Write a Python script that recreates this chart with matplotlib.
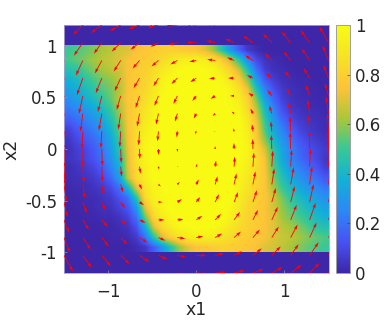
import numpy as np
import matplotlib
matplotlib.use("Agg")
import matplotlib.pyplot as plt
from matplotlib.colors import LinearSegmentedColormap

x1_cells = [-1.5,-1.4,-1.3,-1.2,-1.1,-1.0,-0.9,-0.8,-0.7,-0.6,-0.5,-0.4,-0.3,-0.2,-0.1,0.0,
            0.1,0.2,0.3,0.4,0.5,0.6,0.7,0.8,0.9,1.0,1.1,1.2,1.3,1.4,1.5]
x2_cells = [1.0,0.9,0.8,0.7,0.6,0.5,0.4,0.3,0.2,0.1,0.0,-0.1,-0.2,-0.3,-0.4,-0.5,-0.6,-0.7,-0.8,-0.9,-1.0]
band_value = 0.0

r_p10 = [.50,.52,.55,.58,.62,.65,.68,.70,.74,.76,.78,.79,.80,.78,.76,.75,.70,.60,.45,.28,.15,.05,.02,0,0,0,0,0,0,0,0]
r_p09 = [.52,.55,.58,.62,.65,.67,.70,.74,.77,.78,.80,.84,.88,.92,.94,.95,.92,.87,.78,.64,.46,.25,.10,.04,.02,.01,0,0,0,0,0]
r_p08 = [.45,.47,.53,.58,.62,.65,.68,.75,.78,.80,.84,.90,.95,.99,1,1,.99,.97,.90,.80,.66,.43,.20,.07,.03,.02,.01,0,0,0,0]
r_p07 = [.38,.42,.47,.52,.57,.60,.65,.75,.78,.81,.87,.95,1,1,1,1,1,1,.97,.90,.78,.58,.32,.14,.07,.03,.02,.01,.01,0,0]
r_p06 = [.33,.37,.42,.47,.53,.57,.63,.75,.79,.82,.90,.97,1,1,1,1,1,1,1,.96,.87,.72,.45,.24,.12,.06,.03,.02,.01,.01,0]
r_p05 = [.28,.32,.37,.42,.48,.55,.66,.76,.80,.85,.92,1,1,1,1,1,1,1,1,.98,.93,.80,.58,.33,.18,.08,.04,.02,.02,.01,.01]
r_p04 = [.22,.26,.30,.35,.42,.50,.62,.76,.81,.88,.95,1,1,1,1,1,1,1,1,.99,.96,.84,.66,.42,.25,.12,.06,.04,.02,.02,.01]
r_p03 = [.16,.20,.24,.29,.36,.45,.58,.76,.82,.90,.96,1,1,1,1,1,1,1,1,1,1,.90,.72,.48,.30,.18,.10,.06,.04,.03,.02]
r_p02 = [.08,.14,.19,.24,.30,.40,.54,.75,.84,.93,.98,1,1,1,1,1,1,1,1,1,1,.92,.76,.52,.35,.24,.15,.09,.06,.04,.02]
r_p01 = [.05,.10,.14,.19,.25,.35,.50,.74,.86,.95,.99,1,1,1,1,1,1,1,1,1,1,.95,.78,.58,.40,.29,.20,.13,.09,.06,.04]
r_000 = [.03,.07,.10,.15,.22,.32,.47,.72,.87,.97,1,1,1,1,1,1,1,1,1,1,1,.97,.83,.68,.47,.34,.25,.17,.12,.09,.06]
r_m01 = [.04,.06,.09,.13,.20,.29,.42,.70,.88,.96,1,1,1,1,1,1,1,1,1,1,.99,.95,.86,.74,.50,.35,.25,.19,.14,.10,.05]
r_m02 = [.02,.04,.06,.09,.15,.24,.38,.70,.85,.94,1,1,1,1,1,1,1,1,1,1,.98,.93,.84,.75,.54,.40,.30,.24,.19,.14,.08]
r_m03 = [.02,.03,.04,.06,.10,.18,.32,.66,.84,.93,1,1,1,1,1,1,1,1,1,1,.96,.90,.82,.76,.58,.45,.36,.29,.24,.20,.14]
r_m04 = [.01,.02,.02,.04,.06,.10,.20,.40,.70,.88,.97,.99,1,1,1,1,1,1,1,1,.95,.88,.81,.76,.62,.50,.42,.35,.30,.26,.22]
r_m05 = [.01,.01,.02,.02,.04,.06,.12,.20,.46,.84,.95,.98,1,1,1,1,1,1,1,1,.92,.85,.80,.76,.68,.57,.48,.42,.37,.32,.28]
r_m06 = [0,.01,.01,.02,.03,.04,.08,.14,.30,.70,.90,.97,1,1,1,1,1,1,1,.97,.90,.82,.79,.75,.68,.60,.53,.47,.42,.37,.33]
r_m07 = [0,0,.01,.01,.02,.02,.04,.08,.20,.55,.82,.92,.98,1,1,1,1,1,1,.95,.87,.81,.78,.75,.70,.62,.57,.52,.47,.42,.38]
r_m08 = [0,0,0,0,.01,.01,.02,.04,.12,.35,.68,.84,.92,.98,.99,1,1,.99,.95,.90,.84,.80,.78,.75,.70,.65,.62,.58,.53,.47,.45]
r_m09 = [0,0,0,0,0,.01,.01,.02,.06,.20,.46,.68,.80,.87,.92,.95,.94,.92,.88,.84,.80,.78,.77,.74,.70,.67,.65,.62,.58,.55,.52]
r_m10 = [0,0,0,0,0,0,0,0,.02,.05,.15,.28,.45,.60,.70,.75,.76,.78,.80,.79,.78,.76,.74,.70,.68,.65,.62,.58,.55,.52,.50]

x1_arrows = [-1.5,-1.286,-1.071,-0.857,-0.643,-0.429,-0.214,0.0,0.214,0.429,0.643,0.857,1.071,1.286,1.5]
x2_arrows = [1.2,1.029,0.857,0.686,0.514,0.343,0.171,0.0,-0.171,-0.343,-0.514,-0.686,-0.857,-1.029,-1.2]

u_r00 = [-.113,-.113,-.124,-.124,-.124,-.124,-.124,-.124,-.113,-.113,-.113,-.113,-.113,-.113,-.113]
u_r01 = [-.102,-.102,-.090,-.102,-.102,-.090,-.102,-.113,-.102,-.102,-.113,-.102,-.102,-.102,-.102]
u_r02 = [-.079,-.079,-.079,-.079,-.079,-.079,-.079,-.079,-.090,-.079,-.090,-.079,-.079,-.090,-.068]
u_r03 = [-.068,-.068,-.068,-.068,-.068,-.057,-.068,-.068,-.068,-.068,-.068,-.068,-.068,-.068,-.057]
u_r04 = [-.045,-.045,-.045,-.045,-.045,-.045,-.045,-.045,-.051,-.045,-.051,-.051,-.045,-.045,-.040]
u_r05 = [-.028,-.028,-.034,-.028,-.028,-.028,-.028,-.028,-.028,-.028,-.028,-.028,-.023,-.023,-.028]
u_r06 = [-.011,-.011,-.011,-.011,-.011,-.011,-.008,-.011,-.011,-.008,-.011,-.011,-.008,-.011,-.011]
u_r07 = [0,0,.006,.006,.003,.002,0,0,0,-.002,-.003,-.006,-.006,0,0]
u_r08 = [.011,.011,.008,.011,.011,.008,.011,.011,.011,.008,.011,.011,.011,.011,.011]
u_r09 = [.028,.023,.023,.028,.028,.028,.028,.028,.028,.028,.028,.028,.034,.028,.028]
u_r10 = [.040,.045,.045,.051,.051,.045,.051,.045,.045,.045,.045,.045,.045,.045,.045]
u_r11 = [.057,.068,.068,.068,.068,.068,.068,.068,.068,.068,.057,.068,.068,.068,.068]
u_r12 = [.068,.090,.079,.079,.090,.079,.090,.079,.079,.079,.079,.079,.079,.079,.079]
u_r13 = [.102,.102,.102,.102,.113,.102,.102,.113,.102,.090,.102,.102,.090,.102,.102]
u_r14 = [.113,.113,.113,.113,.113,.113,.113,.124,.124,.124,.124,.124,.124,.113,.113]

v_r00 = [-.116,-.097,-.078,-.058,-.039,-.024,-.006,.010,.019,.039,.058,.078,.097,.126,.175]
v_r01 = [-.136,-.126,-.107,-.087,-.068,-.039,-.019,0,.019,.039,.068,.087,.107,.121,.155]
v_r02 = [-.155,-.146,-.126,-.107,-.078,-.058,-.039,-.013,.010,.029,.049,.068,.087,.116,.146]
v_r03 = [-.175,-.165,-.146,-.126,-.097,-.078,-.058,-.039,-.005,0,.029,.049,.068,.097,.126]
v_r04 = [-.184,-.175,-.155,-.136,-.116,-.097,-.078,-.049,-.029,0,.029,.058,.078,.107,.126]
v_r05 = [-.184,-.175,-.165,-.155,-.126,-.107,-.078,-.049,-.024,.019,.049,.078,.107,.136,.165]
v_r06 = [-.184,-.175,-.165,-.155,-.136,-.097,-.058,-.029,-.005,.029,.068,.097,.146,.155,.175]
v_r07 = [-.184,-.175,-.165,-.136,-.097,-.058,-.029,0,.029,.058,.097,.136,.165,.175,.184]
v_r08 = [-.175,-.155,-.146,-.097,-.068,-.029,.005,.029,.058,.097,.136,.155,.165,.175,.184]
v_r09 = [-.165,-.136,-.107,-.078,-.049,-.019,.024,.049,.078,.107,.126,.155,.165,.175,.184]
v_r10 = [-.146,-.107,-.078,-.058,-.029,0,.029,.049,.078,.097,.116,.136,.155,.175,.184]
v_r11 = [-.126,-.097,-.068,-.049,-.029,0,.005,.039,.058,.078,.097,.126,.146,.165,.175]
v_r12 = [-.146,-.116,-.087,-.068,-.049,-.029,-.010,.013,.039,.058,.078,.107,.126,.146,.155]
v_r13 = [-.155,-.121,-.107,-.087,-.068,-.039,-.019,0,.019,.039,.068,.087,.107,.126,.136]
v_r14 = [-.175,-.126,-.097,-.078,-.058,-.039,-.019,-.010,.006,.024,.039,.058,.078,.097,.116]

x_ticks = [-1, 0, 1]
y_ticks = [1, 0.5, 0, -0.5, -1]
y_tick_labels = ['1', '0.5', '0', '-0.5', '-1']
cbar_ticks = [0, 0.2, 0.4, 0.6, 0.8, 1]
cbar_labels = ['0', '0.2', '0.4', '0.6', '0.8', '1']

parula = LinearSegmentedColormap.from_list('parula', [
    (0.0,   (0.2422, 0.1504, 0.6603)),
    (0.125, (0.2810, 0.3228, 0.9579)),
    (0.25,  (0.1786, 0.5289, 0.9682)),
    (0.375, (0.0689, 0.6948, 0.8394)),
    (0.5,   (0.2161, 0.7843, 0.5923)),
    (0.625, (0.6720, 0.7793, 0.2227)),
    (0.75,  (0.9970, 0.7659, 0.2199)),
    (0.875, (0.9657, 0.8916, 0.1459)),
    (1.0,   (0.9769, 0.9839, 0.0805)),
], N=256)

W, H = 386, 322
fig = plt.figure(figsize=(W / 100, H / 100), dpi=100)
ax = fig.add_axes([64 / W, (H - 273) / H, 264.5 / W, 248 / H])
cax = fig.add_axes([335.5 / W, (H - 273) / H, 14 / W, 248 / H])

density = np.array([r_p10, r_p09, r_p08, r_p07, r_p06, r_p05, r_p04, r_p03, r_p02, r_p01, r_000,
                    r_m01, r_m02, r_m03, r_m04, r_m05, r_m06, r_m07, r_m08, r_m09, r_m10])
ax.set_facecolor(parula(band_value))
im = ax.imshow(density, cmap=parula, vmin=0, vmax=1, interpolation='bilinear', aspect='auto',
               extent=[x1_cells[0], x1_cells[-1], x2_cells[-1], x2_cells[0]], zorder=1)

U = np.array([u_r00, u_r01, u_r02, u_r03, u_r04, u_r05, u_r06, u_r07,
              u_r08, u_r09, u_r10, u_r11, u_r12, u_r13, u_r14])
V = np.array([v_r00, v_r01, v_r02, v_r03, v_r04, v_r05, v_r06, v_r07,
              v_r08, v_r09, v_r10, v_r11, v_r12, v_r13, v_r14])
X, Y = np.meshgrid(x1_arrows, x2_arrows)
ax.quiver(X, Y, U, V, color='#ff0000', angles='xy', scale_units='xy', scale=1,
          units='dots', width=0.85, headwidth=3.6, headlength=6, headaxislength=5.5,
          minlength=0, pivot='tail', zorder=3)

ax.set_xlim(-1.5, 1.5)
ax.set_ylim(-1.2, 1.2)
ax.set_xticks(x_ticks)
ax.set_yticks(y_ticks)
ax.set_yticklabels(y_tick_labels)
ax.tick_params(direction='in', length=2, width=0.5, color='#9a8fc4', labelcolor='#262626',
               labelsize=12, pad=5)
ax.tick_params(axis='x', pad=7)
for s in ax.spines.values():
    s.set_color('#a9a3cf')
    s.set_linewidth(0.6)
ax.set_xlabel('x1', fontsize=12.5, color='#262626', labelpad=0.5)
ax.set_ylabel('x2', fontsize=12.5, color='#262626', labelpad=3)

cb = fig.colorbar(im, cax=cax, ticks=cbar_ticks)
cb.ax.set_yticklabels(cbar_labels)
cb.ax.tick_params(direction='in', length=2, width=0.5, color='#404040', labelcolor='#262626',
                  labelsize=12, pad=4)
cb.outline.set_edgecolor('#a0a0a0')
cb.outline.set_linewidth(0.7)

fig.savefig('out.png', dpi=100)
